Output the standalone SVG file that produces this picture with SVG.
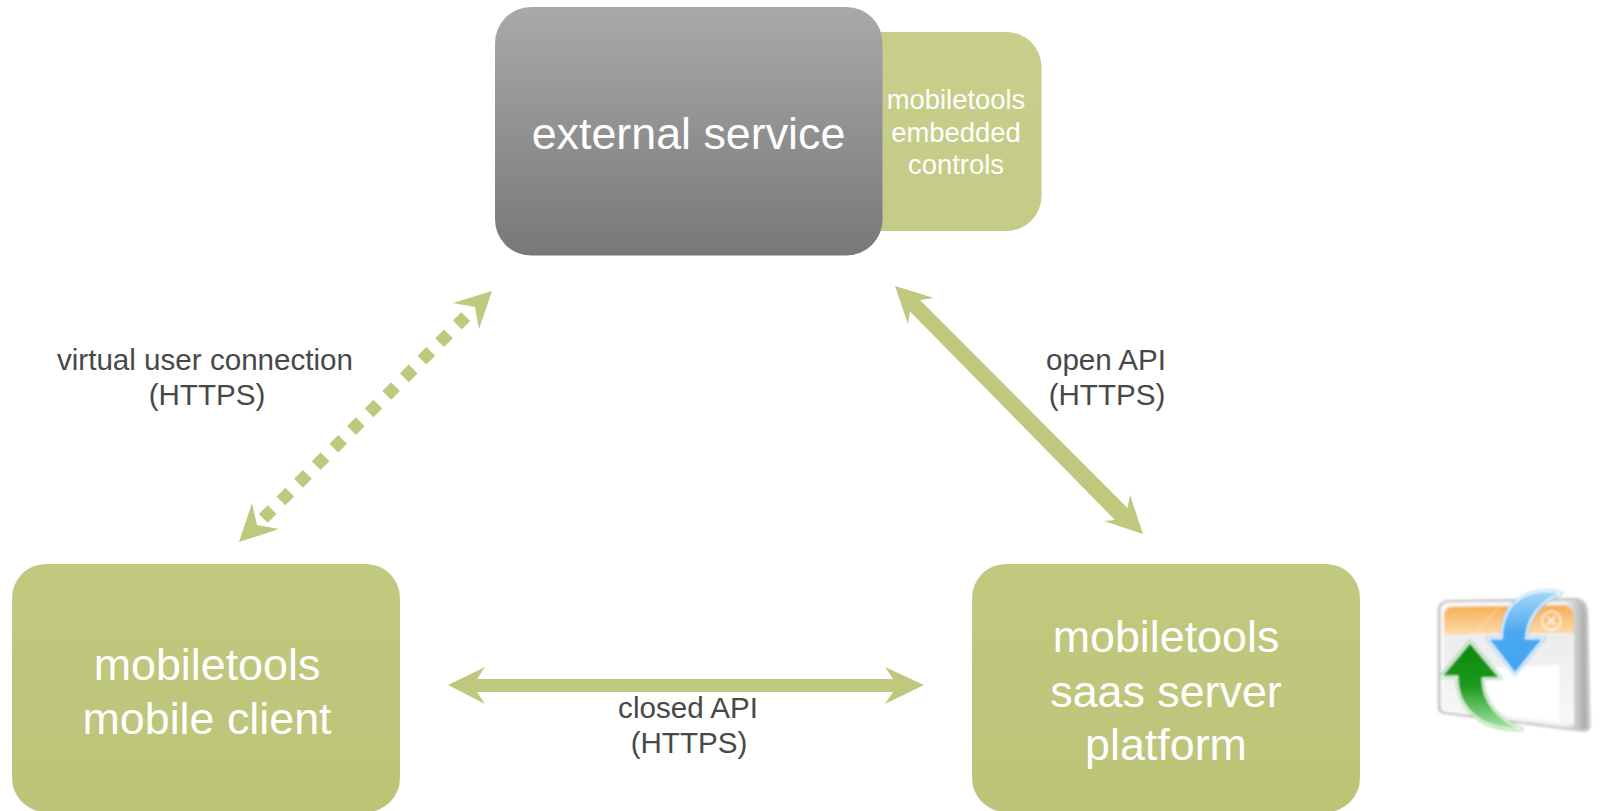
<svg xmlns="http://www.w3.org/2000/svg" width="1600" height="811" viewBox="0 0 1600 811">
<style>
text{font-family:"Liberation Sans",Arial,sans-serif;text-anchor:middle}
.w{fill:#fff}.big{font-size:44.800px}.mid{font-size:27.400px}.lab{font-size:29.600px;fill:#484848}
.g{fill:#bfc87c}
.box{fill:url(#olive)}
</style>
<defs>
<linearGradient id="grey" x1="0" y1="0" x2="0" y2="1"><stop offset="0" stop-color="#a9a9a9"/><stop offset="1" stop-color="#787878"/></linearGradient>
<linearGradient id="olive" x1="0" y1="0" x2="0" y2="1"><stop offset="0" stop-color="#c0c97e"/><stop offset="1" stop-color="#bcc478"/></linearGradient>
<linearGradient id="lite" x1="0" y1="0" x2="0" y2="1"><stop offset="0" stop-color="#c7cf8a"/><stop offset="1" stop-color="#c3cb87"/></linearGradient>
<linearGradient id="or" x1="0" y1="0" x2="0" y2="1"><stop offset="0" stop-color="#f6ae52"/><stop offset="1" stop-color="#fcdcae"/></linearGradient>
<linearGradient id="bl" x1="0" y1="0" x2="0" y2="1"><stop offset="0" stop-color="#a8d8f8"/><stop offset=".5" stop-color="#4aa8f0"/><stop offset="1" stop-color="#3fa6f4"/></linearGradient>
<linearGradient id="gr" x1="0" y1="0" x2="0" y2="1"><stop offset="0" stop-color="#078a07"/><stop offset=".5" stop-color="#1d9a1d"/><stop offset="1" stop-color="#a5e5a5"/></linearGradient>
<linearGradient id="side" x1="0" y1="0" x2="1" y2="0"><stop offset="0" stop-color="#fafafa"/><stop offset=".85" stop-color="#f0f0f0"/><stop offset="1" stop-color="#a8a8a8"/></linearGradient>
<linearGradient id="body" x1="0" y1="0" x2="0" y2="1"><stop offset="0" stop-color="#ececec"/><stop offset="1" stop-color="#f8f8f8"/></linearGradient>
<filter id="soft" x="-10%" y="-10%" width="120%" height="120%"><feGaussianBlur stdDeviation="2.400"/></filter>
</defs>
<rect width="1600" height="811" fill="#fff"/>
<g id="connectors">
<g id="closed-api"><path class="g" d="M448 685L485 667L477 679H893L885 667L924 685L885 704L893 692H477L485 704Z"/></g>
<g id="open-api"><path class="g" d="M895 286L934 298L920 300L1127.500 508L1130 495L1143 534L1104 521L1115 520L910 311.500L908 324Z"/></g>
<g id="virtual-user"><path fill="none" stroke="#bfc87c" stroke-width="12.400" stroke-dasharray="12.400 12.500" d="M263.300 518.400L465.700 316.600"/>
<path class="g" d="M492 291L453 303L475 307L479 329Z"/><path class="g" d="M239 542L252 503L257 525L279 529Z"/></g>
</g>
<g id="embedded-controls">
<path fill="url(#lite)" d="M870 32H1006A35 35 0 0 1 1041.500 67V196A35 35 0 0 1 1006 231H870Z"/>
<text class="w mid" x="956" y="109">mobiletools</text><text class="w mid" x="956" y="142">embedded</text><text class="w mid" x="956" y="174">controls</text>
</g>
<g id="external-service">
<rect x="495" y="7" width="387.500" height="248.500" rx="36" fill="url(#grey)"/>
<text class="w big" x="688.500" y="149">external service</text>
</g>
<g id="mobile-client">
<rect x="12" y="564" width="388" height="248" rx="34" class="box"/>
<text class="w big" x="207" y="680">mobiletools</text><text class="w big" x="207" y="734">mobile client</text>
</g>
<g id="saas-server">
<rect x="972" y="564" width="388" height="248" rx="34" class="box"/>
<text class="w big" x="1166" y="652">mobiletools</text><text class="w big" x="1166" y="707">saas server</text><text class="w big" x="1166" y="760">platform</text>
</g>
<g id="labels">
<text class="lab" x="205" y="370">virtual user connection</text><text class="lab" x="207" y="405">(HTTPS)</text>
<text class="lab" x="1106" y="370">open API</text><text class="lab" x="1107" y="405">(HTTPS)</text>
<text class="lab" x="688" y="718">closed API</text><text class="lab" x="689" y="753">(HTTPS)</text>
</g>
<g id="icon" transform="translate(1400 570) scale(.33333)" filter="url(#soft)">
<path fill="#c8c8c8" d="M145 90L525 83Q565 85 565 135L572 470Q570 488 545 485L130 432Q113 428 113 410V125Q113 92 145 90Z"/>
<path fill="url(#side)" d="M145 97L525 92Q555 95 556 135L560 470Q558 480 540 478L135 425Q122 422 122 405V125Q122 99 145 97Z"/>
<path fill="url(#body)" d="M132 195L522 190V465L132 418Z"/>
<path fill="#fff" d="M250 295L478 285V455L250 430Z"/>
<path fill="url(#or)" d="M155 110L490 106Q520 108 522 150V188L132 194V135Q132 112 155 110Z"/>
<path fill="none" stroke="#fff" stroke-opacity=".7" stroke-width="2" d="M300 108L225 192"/>
<circle cx="454" cy="152" r="28" fill="none" stroke="#fff" stroke-width="4"/>
<path d="M441 139L467 165M467 139L441 165" stroke="#fff" stroke-width="4"/>
<path fill="url(#bl)" stroke="#66b8f2" stroke-width="10" stroke-linejoin="round" d="M485 70C420 50 345 75 320 130C310 155 305 180 305 205H262L345 312L432 205H378C382 150 415 95 485 70Z"/>
<path fill="url(#bl)" stroke="#fff" stroke-width="5" stroke-linejoin="round" d="M485 70C420 50 345 75 320 130C310 155 305 180 305 205H262L345 312L432 205H378C382 150 415 95 485 70Z"/>
<path fill="url(#gr)" stroke="#55c455" stroke-width="10" stroke-linejoin="round" d="M210 215L122 320H172C170 400 225 480 365 478C300 450 248 400 248 325H302Z"/>
<path fill="url(#gr)" stroke="#fff" stroke-width="5" stroke-linejoin="round" d="M210 215L122 320H172C170 400 225 480 365 478C300 450 248 400 248 325H302Z"/>
</g>
</svg>
